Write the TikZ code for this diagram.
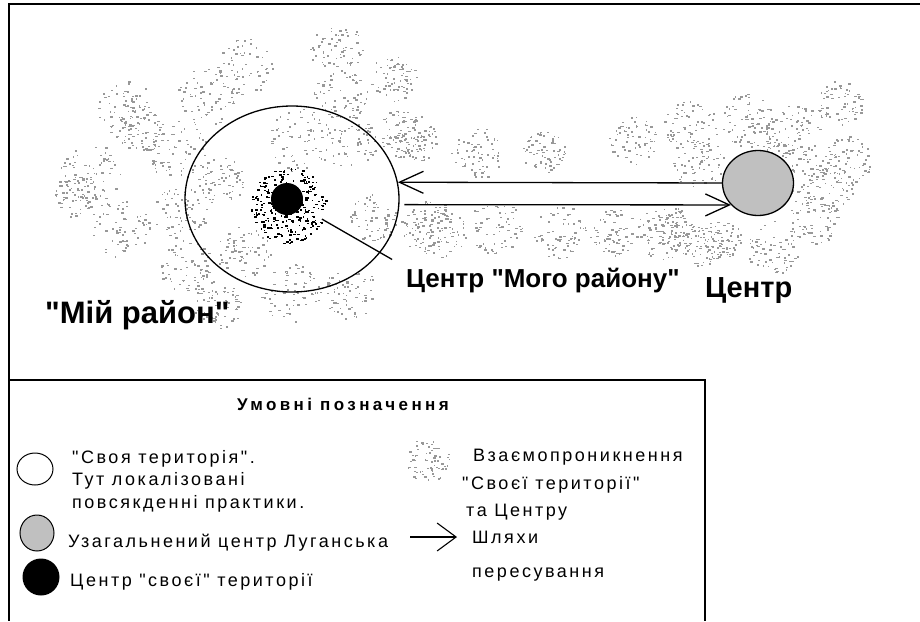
\documentclass[tikz,border=0pt]{standalone}
\usepackage{fontspec}
\setmainfont{Liberation Sans}
\newfontfamily\tagfont{Liberation Sans}
\newfontfamily\keyfont[LetterSpace=14]{Liberation Sans}
\newfontfamily\titlefont[LetterSpace=20]{Liberation Sans}
\usepackage{tikz}
\usetikzlibrary{arrows.meta,shapes.geometric}
\definecolor{speck}{HTML}{989898}
\definecolor{hubgrey}{HTML}{C0C0C0}

\begin{document}
\begin{tikzpicture}[
          x=1pt, y=-1pt,
          every node/.style={inner sep=0pt},
          frame/.style={line width=1.8pt},
          rayon/.style={draw,ellipse,line width=1.3pt,
                        minimum width=214pt,minimum height=186pt},
          hub/.style={draw,ellipse,fill=hubgrey,line width=1.3pt,
                      minimum width=71pt,minimum height=65pt},
          core/.style={circle,fill=black,minimum size=32pt},
          bigtag/.style={anchor=base west,font=\tagfont\bfseries\fontsize{26pt}{30pt}\selectfont},
          keytitle/.style={anchor=base,font=\titlefont\bfseries\fontsize{17pt}{20pt}\selectfont},
          keytag/.style={anchor=base west,font=\keyfont\fontsize{18pt}{22.5pt}\selectfont},
          way/.style={-{Straight Barb[length=24pt,width=22pt]},line width=1.3pt},
          keyway/.style={-{Straight Barb[length=19pt,width=28pt]},line width=1.1pt}
      ]
        \useasboundingbox (0,0) rectangle (920,621);
        \pgfmathsetseed{31}

        % speckled clouds
        \foreach \cx/\cy/\cr in {243/67/30, 337/50/27, 392/77/24, 207/97/30, 127/110/30,
            340/93/27, 403/133/26, 177/150/30, 90/173/30, 120/227/30, 180/213/27,
            220/180/24, 300/140/32, 350/143/27, 187/267/27, 217/305/24, 290/293/30,
            350/293/27, 373/217/24, 427/227/27, 243/253/27, 140/130/24, 75/195/22,
            413/140/24, 477/153/26, 543/153/22, 633/140/24, 697/163/27, 440/230/27,
            495/227/27, 560/232/27, 613/232/24, 663/232/27, 700/245/22,
            690/127/27, 747/120/27, 793/130/27, 840/103/24, 827/187/27, 847/160/24,
            773/247/27, 813/220/27, 673/227/24, 720/240/22, 760/150/27, 800/170/24,
            427/460/22}{
          \foreach \k in {1,...,65}{
            \pgfmathsetmacro\rr{\cr*sqrt(rnd)}
            \pgfmathsetmacro\aa{360*rnd}
            \pgfmathsetmacro\px{\cx+\rr*cos(\aa)}
            \pgfmathsetmacro\py{\cy+\rr*sin(\aa)}
            \pgfmathsetmacro\dw{1+2*rnd}
            \fill[speck] (\px,\py) rectangle +(\dw,1.5);
          }
        }
        \foreach \k in {1,...,260}{
          \pgfmathsetmacro\rr{38*sqrt(rnd)}
          \pgfmathsetmacro\aa{360*rnd}
          \pgfmathsetmacro\px{288+\rr*cos(\aa)}
          \pgfmathsetmacro\py{205+\rr*sin(\aa)}
          \pgfmathsetmacro\dw{1+2*rnd}
          \fill (\px,\py) rectangle +(\dw,1.6);
        }

        \node[rayon] (rayon) at (292,199) {};
        \node[hub] (centre) at (758,183) {};
        \node[core] (core) at (287,199) {};

        \node[bigtag] (coretag) at (406,287) {Центр "Мого району"};
        \node[bigtag,font=\tagfont\bfseries\fontsize{29pt}{33pt}\selectfont] (centretag) at (705,297) {Центр};
        \node[bigtag,font=\tagfont\bfseries\fontsize{31pt}{35pt}\selectfont] (rayontag) at (45,323) {"Мій район"};

        \draw[way] (centre.west) -- (rayon.9);
        \draw[way,shorten <=5pt] (rayon.-3) -- (centre.219);
        \draw[line width=1.3pt,shorten <=24pt,shorten >=16pt] (core) -- (coretag.north west);

        \draw[frame] (920,4) -| (9,621);
        \draw[frame] (9,380) -| (705,621);

        \node[keytitle] (keytitle) at (343,410) {Умовні позначення};

        \node[draw,ellipse,line width=1pt,minimum width=36pt,minimum height=32pt] (keyown) at (35,469) {};
        \node[draw,ellipse,fill=hubgrey,line width=1pt,minimum width=34pt,minimum height=36pt] (keyhub) at (37,533) {};
        \node[core,minimum size=37pt] (keycore) at (41,577) {};

        \node[keytag] (ownline1) at (72,463) {"Своя територія".};
        \node[keytag] (ownline2) at (72,485) {Тут локалізовані};
        \node[keytag] (ownline3) at (72,508) {повсякденні практики.};
        \node[keytag] (hubtag) at (68,547) {Узагальнений центр Луганська};
        \node[keytag] (coretext) at (70,586) {Центр "своєї" території};

        \node[keytag] (mixline1) at (473,461) {Взаємопроникнення};
        \node[keytag] (mixline2) at (462,489) {"Своєї території"};
        \node[keytag] (mixline3) at (466,516) {та Центру};

        \coordinate (keyfrom) at (410,537);
        \coordinate (keyto) at (457,537);
        \draw[keyway] (keyfrom) -- (keyto);
        \node[keytag] (wayline1) at (472,543) {Шляхи};
        \node[keytag] (wayline2) at (472,577) {пересування};
      \end{tikzpicture}
\end{document}
